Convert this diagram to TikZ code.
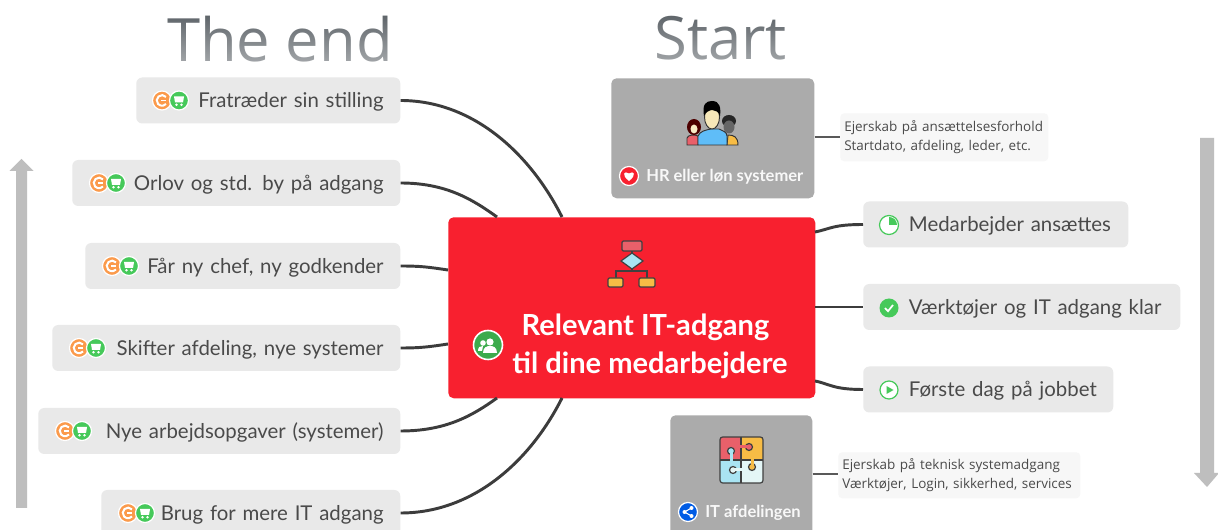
\documentclass[tikz,border=0pt]{standalone}
\usepackage{fontspec}
\setmainfont{Lato}
\newfontfamily\notefont{Open Sans}
\newfontfamily\titlefont{Open Sans}
\usetikzlibrary{calc,fadings}
\tikzfading[name=titlefade,top color=transparent!100,bottom color=transparent!55]
\definecolor{pillbg}{HTML}{E9E9E9}
\definecolor{pilltxt}{HTML}{4A4A4A}
\definecolor{hubred}{HTML}{F8202F}
\definecolor{graybox}{HTML}{ABABAB}
\definecolor{wire}{HTML}{3C3C3C}
\definecolor{ico}{HTML}{46C95A}
\definecolor{icoor}{HTML}{FB9A4B}
\definecolor{arrowgray}{HTML}{BEBEBE}
\definecolor{titlegray}{HTML}{5F656A}
\definecolor{notebg}{HTML}{F7F7F7}
\definecolor{flowred}{HTML}{E9606A}
\definecolor{flowblue}{HTML}{A9E4F3}
\definecolor{flowpale}{HTML}{E4F6F6}
\definecolor{flowyellow}{HTML}{F7BC45}
\definecolor{skin}{HTML}{F6E7B8}
\tikzset{
  x=0.75pt,y=-0.75pt,
  pill/.style={fill=pillbg,rounded corners=4.5pt,text=pilltxt,font=\fontsize{15.3}{18}\selectfont,inner xsep=12.5pt,inner ysep=0pt,minimum height=34.5pt,text height=14pt,text depth=2.8pt,align=right,anchor=west},
  rightpill/.style={pill,align=left,text width=#1*0.75pt-25pt},
  leftpill/.style={pill,text width=#1*0.75pt-25pt},
  hubbox/.style={fill=hubred,rounded corners=4pt,minimum width=275.25pt,minimum height=135.75pt,anchor=north west,inner sep=0pt},
  grayboxs/.style={fill=graybox,rounded corners=4pt,inner sep=0pt,anchor=north west},
  graylabel/.style={text=white,font=\fontsize{12.4}{14}\selectfont\bfseries,inner sep=0pt,anchor=west,opacity=.92},
  notebox/.style={fill=notebg,rounded corners=3pt,text=pilltxt,font=\notefont\fontsize{10.1}{14}\selectfont,align=left,inner sep=0pt,anchor=north west,text width=#1*0.75pt-6pt,inner xsep=3pt},
  wireline/.style={draw=wire,line width=2.2pt},
  noteline/.style={draw=wire!85,line width=1.7pt},
  flowarrow/.style={fill=arrowgray,draw=none},
  titletext/.style={text=titlegray,font=\titlefont\fontsize{44.8}{50}\selectfont,inner sep=0pt,anchor=base west},
  pics/coin/.style={code={
    \path[fill=icoor,draw=white,line width=.9pt] (0,0) circle (9.5);
    \draw[white,line width=1.5pt] (4,-3.6) arc (-42:-318:5.3);
    \draw[white,line width=1.2pt] (-1,0)--(4,0);
  }},
  pics/cart/.style={code={
    \path[fill=ico,draw=white,line width=.9pt] (0,0) circle (9.5);
    \path[fill=white] (-5,-4) -- (5,-4) -- (4,2) -- (-4,2) -- cycle;
    \path[fill=white] (-2.5,4.3) circle (1.3) (2.5,4.3) circle (1.3);
  }},
  pics/pie/.style={code={
    \path[fill=white,draw=ico,line width=.9pt] (0,0) circle (9.5);
    \path[fill=ico] (0,0) -- (0,-8) arc (-90:0:8) -- cycle;
  }},
  pics/tick/.style={code={
    \path[fill=ico] (0,0) circle (9.5);
    \draw[white,line width=1.3pt] (-4,0) -- (-1,3.2) -- (4,-3);
  }},
  pics/play/.style={code={
    \path[fill=white,draw=ico,line width=.9pt] (0,0) circle (9);
    \path[fill=ico] (-2.5,-4) -- (4.5,0) -- (-2.5,4) -- cycle;
  }},
  pics/heart/.style={code={
    \path[fill=hubred,draw=white,line width=.9pt] (0,0) circle (9.5);
    \path[fill=white] (0,5) .. controls (-8,-1) and (-5,-6) .. (0,-2.5) .. controls (5,-6) and (8,-1) .. (0,5) -- cycle;
  }},
  pics/share/.style={code={
    \path[fill=blue!60!cyan!90!black,draw=white,line width=.9pt] (0,0) circle (9.5);
    \draw[white,line width=.8pt] (3.5,-4)--(-3.5,0)--(3.5,4);
    \path[fill=white] (3.5,-4) circle (2) (-3.5,0) circle (2) (3.5,4) circle (2);
  }},
  pics/group/.style={code={
    \path[fill=ico!85!black,draw=white,line width=1.2pt] (0,0) circle (14.5);
    \path[fill=white] (2,-3) circle (3.6);
    \path[fill=white] (-5,8) .. controls (-5,2) and (-1,1) .. (2,1) .. controls (5,1) and (9,2) .. (9,8) -- cycle;
    \path[fill=white] (-5,-2) circle (2.8);
    \path[fill=white] (-10,6) .. controls (-10,2) and (-8,1) .. (-5,1) -- (-6,6) -- cycle;
  }},
}
\begin{document}
\begin{tikzpicture}
\useasboundingbox (0,0) rectangle (1218,530);
\clip (0,0) rectangle (1218,530);
\fill[white] (0,0) rectangle (1218,530);

% titles
\node[titletext] (endtitle) at (167,62) {The end};
\node[titletext] (starttitle) at (654,60) {Start};
\path[fill=white,path fading=titlefade] (160,15) rectangle (800,66);

% gray direction arrows
\path[flowarrow] (16,508) -- (16,171) -- (9.5,171) -- (21.5,159) -- (33.5,171) -- (27,171) -- (27,508) -- cycle;
\path[flowarrow] (1200,138) -- (1214,138) -- (1214,473) -- (1219,473) -- (1207,487) -- (1194,473) -- (1200,473) -- cycle;

% hub and branches
\node[hubbox] (hub) at (448,217) {};
\coordinate (hubA) at (562,217);
\coordinate (hubB) at (497,217);
\coordinate (hubC) at (448,270);
\coordinate (hubD) at (448,344);
\coordinate (hubE) at (497,398);
\coordinate (hubF) at (562,398);
\coordinate (hubG) at (815,232);
\coordinate (hubH) at (815,307);
\coordinate (hubI) at (815,381);

\node[leftpill=264] (n1) at (136,100.5) {Fratræder sin stilling};
\node[leftpill=328] (n2) at (72,183) {Orlov og std. by på adgang};
\node[leftpill=315] (n3) at (85,266) {Får ny chef, ny godkender};
\node[leftpill=348] (n4) at (52,348) {Skifter afdeling, nye systemer};
\node[leftpill=362] (n5) at (38,431) {Nye arbejdsopgaver (systemer)};
\node[leftpill=299] (n6) at (101,513) {Brug for mere IT adgang};

\node[rightpill=265] (r1) at (863,224.5) {\mbox{\hspace*{21.7pt}Medarbejder ansættes}};
\node[rightpill=317] (r2) at (863,307) {\mbox{\hspace*{21.7pt}Værktøjer og IT adgang klar}};
\node[rightpill=250] (r3) at (863,389.5) {\mbox{\hspace*{21.7pt}Første dag på jobbet}};

\draw[wireline] (n1.east) .. controls +(75,0) and +(-30,-60) .. (hubA);
\draw[wireline] (n2.east) .. controls +(45,0) and +(-25,-18) .. (hubB);
\draw[wireline] (n3.east) .. controls +(20,0) and +(-20,-3) .. (hubC);
\draw[wireline] (n4.east) .. controls +(20,0) and +(-20,3) .. (hubD);
\draw[wireline] (n5.east) .. controls +(45,0) and +(-25,18) .. (hubE);
\draw[wireline] (n6.east) .. controls +(75,0) and +(-30,60) .. (hubF);
\draw[wireline] (hubG) .. controls +(15,-3) and +(-30,0) .. (r1.west);
\draw[wireline] (hubH) -- (r2.west |- hubH);
\draw[wireline] (hubI) .. controls +(15,3) and +(-30,0) .. (r3.west);

% gray boxes and notes
\node[grayboxs,minimum width=152.25pt,minimum height=90pt] (hr) at (611,78) {};
\node[grayboxs,minimum width=106.5pt,minimum height=100pt] (it) at (670,415) {};
\node[notebox=208,minimum height=36pt] (note1) at (840,113) {Ejerskab på ansættelsesforhold\\Startdato, afdeling, leder, etc.};
\node[notebox=242,minimum height=34.5pt] (note2) at (838,452) {Ejerskab på teknisk systemadgang\\Værktøjer, Login, sikkerhed, services};
\draw[noteline] (hr.east |- 0,137) coordinate (hrn) -- (note1.west |- hrn);
\draw[noteline] (it.east |- 0,474) coordinate (itn) -- (note2.west |- itn);

\node[graylabel] (hrlabel) at (646,176.5) {HR eller løn systemer};
\node[graylabel] (itlabel) at (705,512.5) {IT afdelingen};
\pic at (629,176) {heart};
\pic at (688,512) {share};

% hub text
\node[text=white,font=\fontsize{21.8}{28.5}\selectfont\bfseries,align=center,inner sep=0pt] (hubtext) at (650,346) {Relevant IT-adgang\hspace*{6.8pt}\\til dine medarbejdere};
\pic at (488,345) {group};

% flowchart icon
\draw[black!75,line width=.9pt] (632,251) -- (632,271) (616,278) -- (616,271) -- (647,271) -- (647,278);
\path[fill=flowred,draw=black!75,line width=.9pt,rounded corners=1pt] (622,241) rectangle (642,251);
\path[fill=flowblue,draw=black!75,line width=.9pt] (621,261) -- (632,253) -- (643,261) -- (632,269) -- cycle;
\path[fill=flowyellow,draw=black!75,line width=.9pt,rounded corners=1pt] (608,278) rectangle (623,287);
\path[fill=flowyellow,draw=black!75,line width=.9pt,rounded corners=1pt] (639,278) rectangle (655,287);

% people icon
\begin{scope}[draw=black!80,line width=.7pt]
\path[fill=flowred,draw=black!80] (687,145) -- (687,138) .. controls (688,135) and (694,134) .. (698,136) -- (698,145) -- cycle;
\path[fill=black!70!red] (694,127) ellipse (7 and 8);
\path[fill=skin!80!white] (694,129) ellipse (3.5 and 4.5);
\path[fill=flowyellow,draw=black!80] (728,135) .. controls (734,135) and (738,137) .. (738,145) -- (727,145) -- cycle;
\path[fill=black!85] (729,121) ellipse (7 and 6);
\path[fill=black!60] (729,127) ellipse (5.5 and 6.5);
\path[fill=flowblue!70!cyan!80!blue,draw=black!80] (698,145) -- (698,136) .. controls (700,131) and (706,130) .. (711,129) -- (719,129) .. controls (723,131) and (727,132) .. (727,136) -- (727,145) -- cycle;
\path[fill=skin,draw=black!80] (712,117) ellipse (7.5 and 12);
\path[fill=black] (704,116) .. controls (702,104) and (706,101) .. (712,101) .. controls (720,101) and (721,108) .. (720,116) .. controls (717,108) and (708,108) .. (704,116) -- cycle;
\end{scope}

% puzzle icon
\path[fill=flowred] (720,437) rectangle (741,460);
\path[fill=flowyellow] (741,437) rectangle (763,460);
\path[fill=flowblue] (720,460) rectangle (741,483);
\path[fill=flowpale] (741,460) rectangle (763,483);
\draw[black!75,line width=.9pt] (741,437) -- (741,483) (720,460) -- (763,460);
\path[fill=flowred,draw=black!75,line width=.9pt] (749,447) circle (3.5);
\path[fill=flowred] (739.5,445.5) rectangle (747,448.5);
\path[fill=flowblue,draw=black!75,line width=.9pt] (731,451) circle (3.5);
\path[fill=flowblue] (729.5,453) rectangle (732.5,461.5);
\path[fill=flowpale,draw=black!75,line width=.9pt] (733,470) circle (3.5);
\path[fill=flowpale] (735,468.5) rectangle (742.5,471.5);
\path[fill=flowyellow,draw=black!75,line width=.9pt] (752,467) circle (3.5);
\path[fill=flowyellow] (750.5,458.5) rectangle (753.5,465);
\draw[black!75,line width=.9pt,rounded corners=2pt] (720,437) rectangle (763,483);

% status icons
\foreach \cx/\cy in {197/100.5,134/183,147/266,114/348,100/431,163/513}{
  \pic at ({\cx-35},\cy) {coin};
  \pic at ({\cx-18},\cy) {cart};
}
\pic at (889,225) {pie};
\pic at (889,308) {tick};
\pic at (889,390) {play};
\end{tikzpicture}
\end{document}
